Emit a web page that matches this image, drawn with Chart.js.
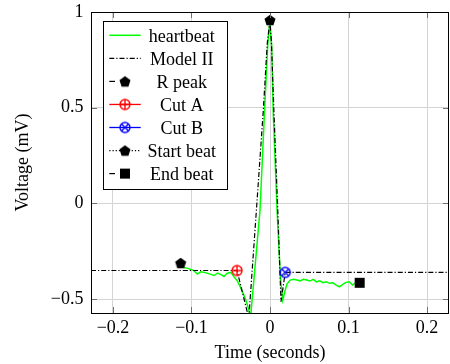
<!DOCTYPE html>
<html><head><meta charset="utf-8">
<script src="https://cdn.jsdelivr.net/npm/chart.js@4/dist/chart.umd.min.js"></script>
<style>html,body{margin:0;padding:0;overflow:hidden;background:#fff}
#wrap{position:relative;width:456px;height:364px}</style>
</head><body><div id="wrap"><canvas id="c" width="456" height="364"></canvas></div>
<script>
// ---- data ----
const heartbeatT = [-0.1095,-0.1038,-0.0976,-0.0925,-0.0881,-0.0825,-0.0762,-0.0712,-0.0668,-0.0624,-0.0587,-0.0545,-0.0499,-0.0461,-0.0418,-0.0386,-0.0349,-0.0307,-0.0280,-0.0257,-0.0245,-0.0202,-0.0127,-0.0069,-0.0029,-0.0004,0.0021,0.0040,0.0090,0.0132,0.0162,0.0194,0.0216,0.0257,0.0300,0.0341,0.0382,0.0425,0.0466,0.0508,0.0550,0.0592,0.0633,0.0676,0.0717,0.0759,0.0801,0.0843,0.0885,0.0927,0.0968,0.1009,0.1052,0.1087];
const heartbeatV = [-0.335,-0.341,-0.350,-0.370,-0.358,-0.362,-0.370,-0.377,-0.364,-0.372,-0.382,-0.365,-0.361,-0.383,-0.404,-0.430,-0.464,-0.506,-0.542,-0.576,-0.585,-0.384,-0.035,0.488,0.828,0.940,0.828,0.488,-0.035,-0.384,-0.506,-0.453,-0.422,-0.401,-0.397,-0.401,-0.405,-0.397,-0.401,-0.406,-0.397,-0.410,-0.405,-0.415,-0.410,-0.418,-0.415,-0.427,-0.436,-0.423,-0.413,-0.410,-0.427,-0.415];
const modelT = [-0.228,-0.042,-0.027,-0.0173,-0.0085,-0.0035,0,0.0019,0.0049,0.0099,0.0140,0.0194,0.228];
const modelV = [-0.351,-0.351,-0.60,-0.035,0.488,0.836,0.958,0.836,0.488,-0.035,-0.514,-0.361,-0.361];
const rPeakT = [0.0], rPeakV = [0.958];
const cutAT = [-0.042], cutAV = [-0.351];
const cutBT = [0.0194], cutBV = [-0.361];
const startT = [-0.1138], startV = [-0.312];
const endT = [0.1142], endV = [-0.415];
const xTicks = [-0.2,-0.1,0,0.1,0.2];
const yTicks = [-0.5,0,0.5,1];
const legendLabels = ['heartbeat','Model II','R peak','Cut A','Cut B','Start beat','End beat'];

// ---- markers ----
function makeMarker(kind, color){
  const c = document.createElement('canvas'); c.width = 16; c.height = 16;
  const g = c.getContext('2d'); const cx = 8, cy = 8;
  g.strokeStyle = color; g.fillStyle = color; g.lineWidth = 1.4;
  if (kind === 'pentagon'){
    const r = 5.8; g.beginPath();
    for (let i=0;i<5;i++){ const a = -Math.PI/2 + i*2*Math.PI/5; const x = cx + r*Math.cos(a), y = cy + r*Math.sin(a) + 0.6; i?g.lineTo(x,y):g.moveTo(x,y); }
    g.closePath(); g.fill();
  } else if (kind === 'oplus' || kind === 'otimes'){
    const r = 5; g.beginPath(); g.arc(cx,cy,r,0,2*Math.PI); g.stroke();
    g.beginPath();
    if (kind === 'oplus'){ g.moveTo(cx-r,cy); g.lineTo(cx+r,cy); g.moveTo(cx,cy-r); g.lineTo(cx,cy+r); }
    else { const d = r*Math.SQRT1_2; g.moveTo(cx-d,cy-d); g.lineTo(cx+d,cy+d); g.moveTo(cx-d,cy+d); g.lineTo(cx+d,cy-d); }
    g.stroke();
  } else if (kind === 'square'){
    g.fillRect(cx-5, cy-5, 10, 10);
  }
  return c;
}
const mPent = makeMarker('pentagon','#000');
const mCutA = makeMarker('oplus','#ff0000');
const mCutB = makeMarker('otimes','#0000ff');
const mSq = makeMarker('square','#000');

const pts = (t,v) => t.map((x,i)=>({x:x, y:v[i]}));
const FONT = '"Liberation Serif","Times New Roman",serif';
const fmt = v => (v < 0 ? '\u2212' + String(Math.abs(v)) : String(v));
const DASHDOT = [5,2,1.2,2];

const frameAndLegend = {
  id: 'frameAndLegend',
  afterDraw(chart){
    const ctx = chart.ctx, a = chart.chartArea;
    const xs = chart.scales.x, ys = chart.scales.y;
    ctx.save();
    // inside tick marks
    ctx.strokeStyle = '#707070'; ctx.lineWidth = 1;
    const TL = 6;
    ctx.beginPath();
    xTicks.forEach(v => { const px = Math.round(xs.getPixelForValue(v)) + 0.5;
      ctx.moveTo(px, a.bottom); ctx.lineTo(px, a.bottom - TL);
      ctx.moveTo(px, a.top); ctx.lineTo(px, a.top + TL); });
    yTicks.forEach(v => { const py = Math.round(ys.getPixelForValue(v)) + 0.5;
      ctx.moveTo(a.left, py); ctx.lineTo(a.left + TL, py);
      ctx.moveTo(a.right, py); ctx.lineTo(a.right - TL, py); });
    ctx.stroke();
    // frame
    ctx.strokeStyle = '#000'; ctx.lineWidth = 1;
    ctx.strokeRect(a.left + 0.5, a.top + 0.5, a.right - a.left - 1, a.bottom - a.top);
    // legend
    const bx = 103.5, by = 21.5, bw = 124, bh = 168;
    ctx.fillStyle = '#fff'; ctx.fillRect(bx, by, bw, bh);
    ctx.strokeStyle = '#000'; ctx.lineWidth = 1; ctx.strokeRect(bx, by, bw, bh);
    const x0 = 109.3, x1 = 140.7, xm = 125, tx = 181.7;
    ctx.font = '18px ' + FONT; ctx.textAlign = 'center'; ctx.textBaseline = 'alphabetic';
    legendLabels.forEach((lab, i) => {
      const y = 35.3 + 23.05 * i;
      ctx.save();
      ctx.beginPath();
      if (i === 0){ ctx.strokeStyle = '#00ff00'; ctx.lineWidth = 1.5; ctx.moveTo(x0,y); ctx.lineTo(x1,y); ctx.stroke(); }
      else if (i === 1){ ctx.strokeStyle = '#000'; ctx.lineWidth = 1.2; ctx.setLineDash(DASHDOT); ctx.moveTo(x0,y); ctx.lineTo(x1,y); ctx.stroke(); }
      else if (i === 2 || i === 6){ ctx.strokeStyle = '#000'; ctx.lineWidth = 1.2; ctx.moveTo(x0,y); ctx.lineTo(115,y); ctx.stroke(); }
      else if (i === 3){ ctx.strokeStyle = '#ff0000'; ctx.lineWidth = 1.3; ctx.moveTo(x0,y); ctx.lineTo(x1,y); ctx.stroke(); }
      else if (i === 4){ ctx.strokeStyle = '#0000ff'; ctx.lineWidth = 1.3; ctx.moveTo(x0,y); ctx.lineTo(x1,y); ctx.stroke(); }
      else if (i === 5){ ctx.strokeStyle = '#000'; ctx.lineWidth = 1.2; ctx.setLineDash([1.2,2]); ctx.moveTo(x0,y); ctx.lineTo(x1,y); ctx.stroke(); }
      ctx.restore();
      const mk = [null,null,mPent,mCutA,mCutB,mPent,mSq][i];
      if (mk) ctx.drawImage(mk, xm - 8, y - 8);
      ctx.fillStyle = '#000';
      ctx.fillText(lab, tx, y + 6.5);
    });
    ctx.restore();
  }
};

new Chart(document.getElementById('c'), {
  type: 'scatter',
  data: { datasets: [
    { label: 'heartbeat', data: pts(heartbeatT, heartbeatV), showLine: true, borderColor: '#00ff00', borderWidth: 1.5, pointRadius: 0, order: 7 },
    { label: 'Model II', data: pts(modelT, modelV), showLine: true, borderColor: '#000', borderWidth: 1.2, borderDash: DASHDOT, pointRadius: 0, order: 6 },
    { label: 'R peak', data: pts(rPeakT, rPeakV), pointStyle: mPent, pointRadius: 6, order: 5 },
    { label: 'Cut A', data: pts(cutAT, cutAV), pointStyle: mCutA, pointRadius: 6, order: 4 },
    { label: 'Cut B', data: pts(cutBT, cutBV), pointStyle: mCutB, pointRadius: 6, order: 3 },
    { label: 'Start beat', data: pts(startT, startV), pointStyle: mPent, pointRadius: 6, order: 2 },
    { label: 'End beat', data: pts(endT, endV), pointStyle: mSq, pointRadius: 6, order: 1 }
  ]},
  options: {
    responsive: false, animation: false, devicePixelRatio: 1,
    layout: { padding: { top: 12, right: 1, left: 0, bottom: 0 } },
    plugins: { legend: { display: false }, tooltip: { enabled: false } },
    elements: { line: { tension: 0 } },
    scales: {
      x: { type: 'linear', min: -0.228, max: 0.228,
        afterBuildTicks: s => { s.ticks = xTicks.map(v => ({ value: v })); },
        afterFit: s => { s.height = 51; s.paddingLeft = 0; s.paddingRight = 0; },
        ticks: { callback: fmt, color: '#000', font: { family: FONT, size: 18 }, padding: 4, maxRotation: 0, autoSkip: false },
        grid: { color: '#d4d4d4', drawTicks: false, lineWidth: 1 },
        border: { display: false },
        title: { display: true, text: 'Time (seconds)', color: '#000', font: { family: FONT, size: 18 }, padding: { top: 0, bottom: 0 } } },
      y: { type: 'linear', min: -0.573, max: 1.0,
        afterBuildTicks: s => { s.ticks = yTicks.map(v => ({ value: v })); },
        afterFit: s => { s.width = 91; s.paddingTop = 0; s.paddingBottom = 0; },
        ticks: { callback: fmt, color: '#000', font: { family: FONT, size: 18 }, padding: 7.5, autoSkip: false },
        grid: { color: '#d4d4d4', drawTicks: false, lineWidth: 1 },
        border: { display: false },
        title: { display: true, text: 'Voltage (mV)', color: '#000', font: { family: FONT, size: 18 }, padding: { top: 12.5, bottom: 0 } } }
    }
  },
  plugins: [frameAndLegend]
});
</script>
</body></html>
